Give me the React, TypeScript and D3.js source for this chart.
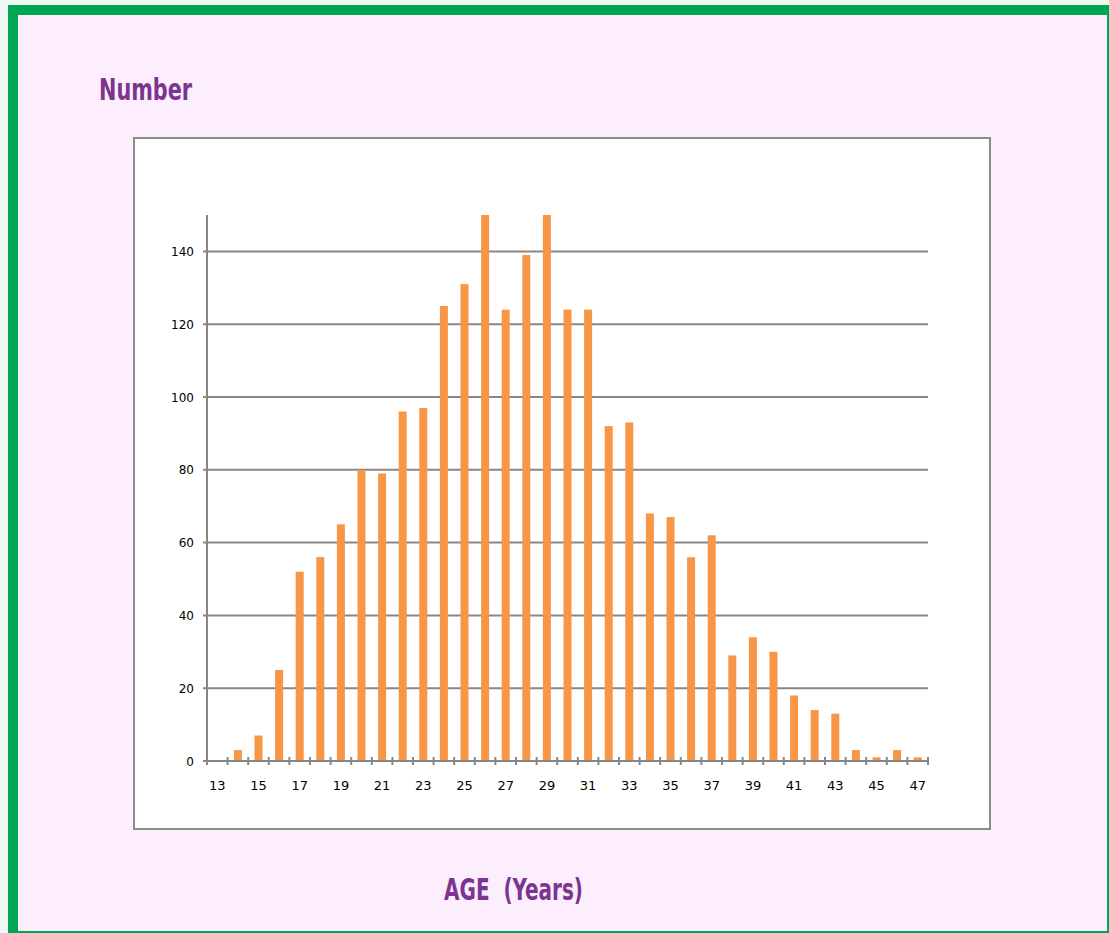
import React from "react";
import * as d3 from "d3";

const ages: number[] = [13,14,15,16,17,18,19,20,21,22,23,24,25,26,27,28,29,30,31,32,33,34,35,36,37,38,39,40,41,42,43,44,45,46,47];
const counts: number[] = [0,3,7,25,52,56,65,80,79,96,97,125,131,150,124,139,150,124,124,92,93,68,67,56,62,29,34,30,18,14,13,3,1,3,1];
const yTicks: number[] = [0,20,40,60,80,100,120,140];
const xLabels: number[] = [13,15,17,19,21,23,25,27,29,31,33,35,37,39,41,43,45,47];
const yTitle = "Number";
const xTitle = "AGE  (Years)";

export default function App() {
  const W = 1109, H = 933;
  const left = 207, right = 928, top = 215, bottom = 761;
  const x = d3.scaleBand<number>().domain(ages).range([left, right]).paddingInner(0).paddingOuter(0);
  const y = d3.scaleLinear().domain([0, 150]).range([bottom, top]);
  const bw = 8;
  const gridColor = "#878787";
  const titleFont = "Impact, 'Liberation Sans Narrow', 'DejaVu Sans Condensed', sans-serif";
  const tickFont = "Verdana, 'DejaVu Sans', sans-serif";
  const tickPositions = ages.map((a) => x(a) as number).concat([right]);

  return (
    <svg width={W} height={H} style={{ position: "absolute", left: 0, top: 0, display: "block" }}>
      <rect x={0} y={0} width={W} height={H} fill="#eef7f2" />
      <rect x={8} y={5} width={W - 8} height={H - 5} fill="#00a651" />
      <rect x={18} y={15} width={W - 18 - 2} height={H - 15 - 2} fill="#fdeefd" />
      <text x={99} y={100} fill="#7b3590" fontFamily={titleFont} fontWeight="bold" fontSize={30}
        textLength={93} lengthAdjust="spacingAndGlyphs">{yTitle}</text>
      <text x={444} y={900} fill="#7b3590" fontFamily={titleFont} fontWeight="bold" fontSize={30}
        textLength={139} lengthAdjust="spacingAndGlyphs" style={{ whiteSpace: "pre" }}>{xTitle}</text>
      {/* plot frame */}
      <rect x={134} y={138} width={856} height={691} fill="#ffffff" stroke="#8c8c8c" strokeWidth={2} />
      {/* gridlines */}
      {yTicks.filter((t) => t > 0).map((t) => (
        <line key={"g" + t} x1={left - 4} x2={right} y1={y(t)} y2={y(t)} stroke={gridColor} strokeWidth={2} />
      ))}
      {yTicks.map((t) => (
        <text key={"yl" + t} x={194} y={y(t) + 4.5} textAnchor="end" fontFamily={tickFont} fontSize={12} fill="#000">{t}</text>
      ))}
      {/* bars */}
      {ages.map((a, i) => counts[i] > 0 ? (
        <rect key={"b" + a} x={(x(a) as number) + x.bandwidth() / 2 - bw / 2} y={y(counts[i])}
          width={bw} height={bottom - y(counts[i])} fill="#f79646" />
      ) : null)}
      {/* y axis */}
      <line x1={left} x2={left} y1={top} y2={bottom + 1} stroke={gridColor} strokeWidth={2} />
      {/* x axis */}
      <line x1={left - 4} x2={right + 1} y1={bottom} y2={bottom} stroke={gridColor} strokeWidth={2} />
      {tickPositions.map((p, i) => (
        <line key={"t" + i} x1={p} x2={p} y1={bottom - 4} y2={bottom + 4} stroke={gridColor} strokeWidth={2} />
      ))}
      {xLabels.map((a) => (
        <text key={"xl" + a} x={(x(a) as number) + x.bandwidth() / 2} y={790} textAnchor="middle"
          fontFamily={tickFont} fontSize={13} fill="#000">{a}</text>
      ))}
    </svg>
  );
}
